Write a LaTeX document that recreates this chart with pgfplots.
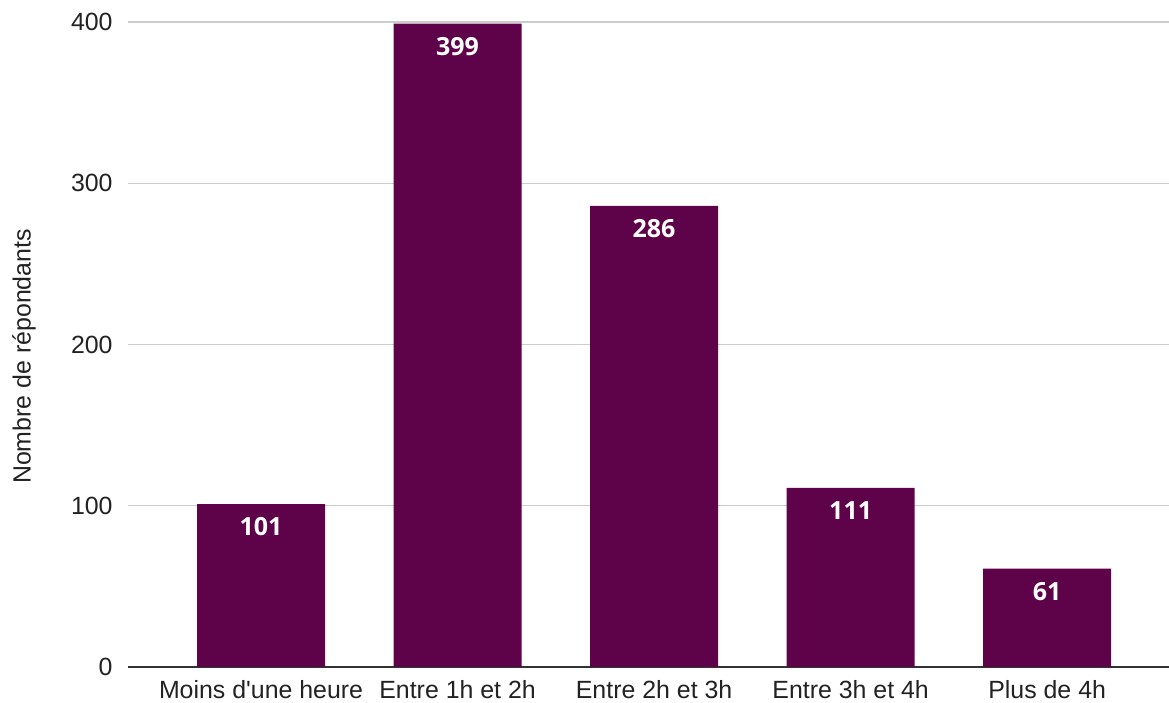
\documentclass[border=0pt]{standalone}
\usepackage{fontspec}
\setmainfont{Liberation Sans}
\newfontfamily\barfont{Open Sans}
\usepackage{pgfplots}
\pgfplotsset{compat=1.18}
\usetikzlibrary{calc}
\definecolor{barc}{RGB}{94,3,74}
\definecolor{gridc}{RGB}{204,204,204}
\definecolor{txt}{RGB}{34,34,34}
\definecolor{axisc}{RGB}{51,51,51}
\begin{document}
\begin{tikzpicture}[font=\fontsize{12.45}{15}\selectfont]
\begin{axis}[name=ax, scale only axis, width=520.5pt, height=322.5pt,
  xmin=-0.677, xmax=4.62, ymin=0, ymax=400,
  axis lines*=left, separate axis lines,
  y axis line style={draw=none},
  x axis line style={draw=axisc, line width=1.1pt, -},
  major tick length=0pt,
  ytick={0,100,200,300,400},
  xtick={0,1,2,3,4},
  xticklabels={Moins d\textquotesingle une heure, Entre 1h et 2h, Entre 2h et 3h, Entre 3h et 4h, Plus de 4h},
  /pgf/number format/assume math mode=true,
  ymajorgrids, grid style={gridc, line width=0.7pt},
  yticklabel style={inner sep=0pt, xshift=-7.5pt, text=txt},
  xticklabel style={inner sep=0pt, anchor=north, yshift=-6.5pt, text=txt},
  every axis y label/.style={at={(axis description cs:-0.0999,0.4814)}, rotate=90, anchor=center, text=txt},
  ylabel={Nombre de répondants},
  ybar, bar width=64pt,
  nodes near coords,
  every node near coord/.append style={font=\barfont\bfseries\fontsize{12.5}{15}\selectfont, text=white, anchor=north, inner sep=0pt, yshift=-6.5pt},
  clip=false,
]
\addplot[fill=barc, draw=none] coordinates {(0,101) (1,399) (2,286) (3,111) (4,61)};
\end{axis}
\pgfresetboundingbox
\path ($(ax.south west)+(-64pt,-18pt)$) rectangle ($(ax.north east)+(0pt,11pt)$);
\end{tikzpicture}
\end{document}
